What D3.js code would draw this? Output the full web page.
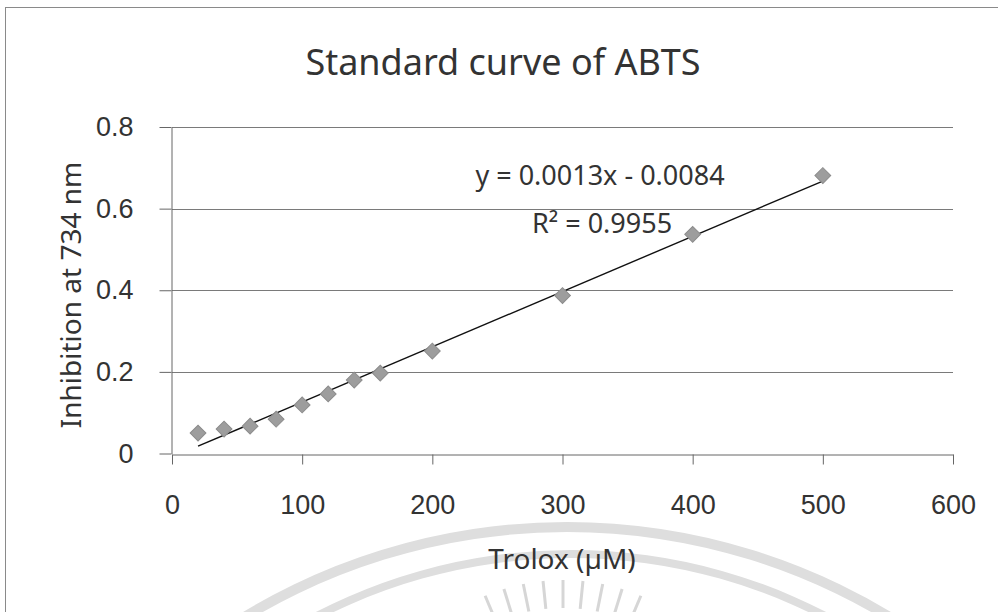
<!DOCTYPE html>
<html>
<head>
<meta charset="utf-8">
<script src="https://cdn.jsdelivr.net/npm/d3@7"></script>
<style>
  html, body { margin: 0; padding: 0; background: #fff; }
  svg { display: block; font-family: "Noto Sans", "Open Sans", sans-serif; }
</style>
</head>
<body>
<svg id="chart" width="998" height="612"></svg>
<script>
"use strict";

/********/
/* data */
/********/

const trolox = [20, 40, 60, 80, 100, 120, 140, 160, 200, 300, 400, 500];
const inhibition = [0.05, 0.06, 0.067, 0.084, 0.119, 0.146, 0.18, 0.197, 0.251, 0.387, 0.537, 0.681];
const xTicks = [0, 100, 200, 300, 400, 500, 600];
const yTicks = [0, 0.2, 0.4, 0.6, 0.8];
const equationText = "y = 0.0013x - 0.0084";
const rSquaredText = "R² = 0.9955";

/********/
/* view */
/********/

const svg = d3.select("#chart");
const textColour = "#333";

const x = d3.scaleLinear().domain([0, 600]).range([172, 953]);
const y = d3.scaleLinear().domain([0, 0.8]).range([453.5, 127]);

// faded seal watermark of the scanned page
function watermark() {
  const g = svg.append("g").attr("fill", "#dedede");
  g.append("path")
    .attr("transform", "translate(567,1150)")
    .attr("d", d3.arc().innerRadius(618).outerRadius(628).startAngle(-0.6).endAngle(0.6)());
  g.append("path")
    .attr("transform", "translate(571,1106)")
    .attr("d", d3.arc().innerRadius(548).outerRadius(556).startAngle(-0.55).endAngle(0.55)());

  const rays = d3.range(-4, 5);
  g.selectAll("line.ray")
    .data(rays)
    .join("line")
    .attr("class", "ray")
    .attr("stroke", "#d6d6d6")
    .attr("stroke-width", 3)
    .attr("x1", d => 563 + Math.sin(d * 0.1) * 172)
    .attr("y1", d => 780 - Math.cos(d * 0.1) * 172)
    .attr("x2", d => 563 + Math.sin(d * 0.1) * 200)
    .attr("y2", d => 780 - Math.cos(d * 0.1) * 200);
}

function frame() {
  svg.append("rect")
    .attr("x", 5.5)
    .attr("y", 7.5)
    .attr("width", 1100)
    .attr("height", 700)
    .attr("fill", "none")
    .attr("stroke", "#8a8a8a");
}

function gridAndAxes() {
  svg.append("g")
    .selectAll("line")
    .data(yTicks.filter(d => d > 0))
    .join("line")
    .attr("x1", x(0))
    .attr("x2", x(600))
    .attr("y1", d => Math.round(y(d)) + 0.5)
    .attr("y2", d => Math.round(y(d)) + 0.5)
    .attr("stroke", "#7a7a7a");

  const xAxis = svg.append("g")
    .attr("transform", "translate(0," + (Math.round(y(0)) + 0.5) + ")")
    .call(d3.axisBottom(x).tickValues(xTicks).tickFormat(d3.format("d")).tickSize(10).tickSizeOuter(0).tickPadding(30));
  xAxis.select(".domain").attr("stroke", "#666");
  xAxis.selectAll(".tick line").attr("stroke", "#666");
  xAxis.selectAll(".tick text")
    .attr("fill", textColour)
    .attr("font-size", 27);

  const yAxis = svg.append("g")
    .attr("transform", "translate(" + (Math.round(x(0)) - 0.5) + ",0)")
    .call(d3.axisLeft(y).tickValues(yTicks).tickFormat(d => d === 0 ? "0" : d3.format(".1f")(d)).tickSize(12).tickSizeOuter(0).tickPadding(26));
  yAxis.select(".domain").attr("stroke", "#666");
  yAxis.selectAll(".tick line").attr("stroke", "#666");
  yAxis.selectAll(".tick text")
    .attr("fill", textColour)
    .attr("font-size", 27);
}

function trendline() {
  // least squares fit of the plotted points, as the spreadsheet trendline
  const mx = d3.mean(trolox);
  const my = d3.mean(inhibition);
  const sxy = d3.sum(trolox, (d, i) => (d - mx) * (inhibition[i] - my));
  const sxx = d3.sum(trolox, d => (d - mx) * (d - mx));
  const slope = sxy / sxx;
  const intercept = my - slope * mx;
  const ends = d3.extent(trolox);

  svg.append("path")
    .datum(ends)
    .attr("d", d3.line().x(d => x(d)).y(d => y(slope * d + intercept)))
    .attr("stroke", "#111")
    .attr("stroke-width", 1.4)
    .attr("fill", "none");
}

function points() {
  const diamond = d3.symbol().type(d3.symbolSquare).size(125);
  svg.append("g")
    .selectAll("path")
    .data(trolox)
    .join("path")
    .attr("transform", (d, i) => "translate(" + x(d) + "," + y(inhibition[i]) + ") rotate(45)")
    .attr("d", diamond)
    .attr("fill", "#9d9d9d")
    .attr("stroke", "#8c8c8c")
    .attr("stroke-width", 1);
}

function labels() {
  svg.append("text")
    .attr("x", 503)
    .attr("y", 75)
    .attr("text-anchor", "middle")
    .attr("font-size", 36)
    .attr("fill", textColour)
    .text("Standard curve of ABTS");

  svg.append("text")
    .attr("x", 562)
    .attr("y", 569)
    .attr("text-anchor", "middle")
    .attr("font-size", 28)
    .attr("fill", textColour)
    .text("Trolox (µM)");

  svg.append("text")
    .attr("transform", "translate(81,295) rotate(-90)")
    .attr("text-anchor", "middle")
    .attr("font-size", 28)
    .attr("fill", textColour)
    .text("Inhibition at 734 nm");

  svg.append("text")
    .attr("x", 600)
    .attr("y", 185)
    .attr("text-anchor", "middle")
    .attr("font-size", 27)
    .attr("fill", textColour)
    .text(equationText);

  svg.append("text")
    .attr("x", 602)
    .attr("y", 233)
    .attr("text-anchor", "middle")
    .attr("font-size", 27)
    .attr("fill", textColour)
    .text(rSquaredText);
}

watermark();
frame();
gridAndAxes();
trendline();
points();
labels();
</script>
</body>
</html>
